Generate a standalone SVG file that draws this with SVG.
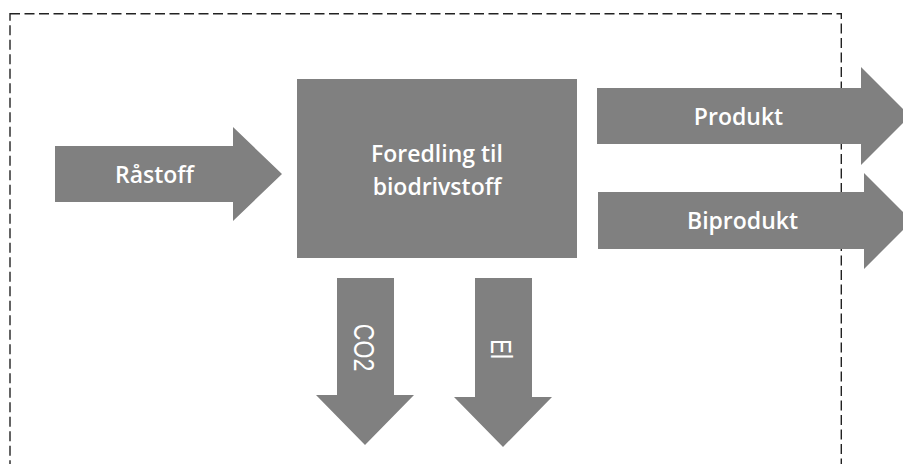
<svg xmlns="http://www.w3.org/2000/svg" width="903" height="464" viewBox="0 0 903 464">
<style>
.shape{fill:#808080;}
.lbl{fill:#ffffff;font-family:"Open Sans","Liberation Sans",sans-serif;font-weight:600;font-size:23px;text-anchor:middle;}
.vlbl{fill:#ffffff;font-family:"Liberation Sans",Arial,sans-serif;font-size:22px;text-anchor:middle;}
.border{fill:none;stroke:#222222;stroke-width:1.4;stroke-dasharray:10 4.5;}
</style>
<rect class="border" x="10" y="13.7" width="831.3" height="470"/>
<g id="connectors">
<g id="rastoff">
<polygon class="shape" points="55,146 233,146 233,127 282,174 233,221 233,202 55,202"/>
<text class="lbl" x="154.5" y="183">Råstoff</text>
</g>
<g id="produkt">
<polygon class="shape" points="597,88 861,88 861,67 910,116 861,165 861,144 597,144"/>
<text class="lbl" x="738.5" y="125">Produkt</text>
</g>
<g id="biprodukt">
<polygon class="shape" points="598,192 864,192 864,173 912,221 864,269 864,249 598,249"/>
<text class="lbl" x="742.5" y="229">Biprodukt</text>
</g>
<g id="co2">
<polygon class="shape" points="337,278 394,278 394,395 414,395 365,445 316,395 337,395"/>
<text class="vlbl" transform="translate(365,347.5) rotate(90) scale(1.05,1.35)" x="0" y="8">CO2</text>
</g>
<g id="el">
<polygon class="shape" points="475,278 532,278 532,397 552,397 503,447 454,397 475,397"/>
<text class="vlbl" transform="translate(502,349) rotate(90) scale(1,1.35)" x="0" y="8">El</text>
</g>
</g>
<g id="foredling">
<rect class="shape" x="297" y="79" width="280" height="179"/>
<text class="lbl" x="437" y="162">Foredling til</text>
<text class="lbl" x="437" y="195">biodrivstoff</text>
</g>
</svg>
